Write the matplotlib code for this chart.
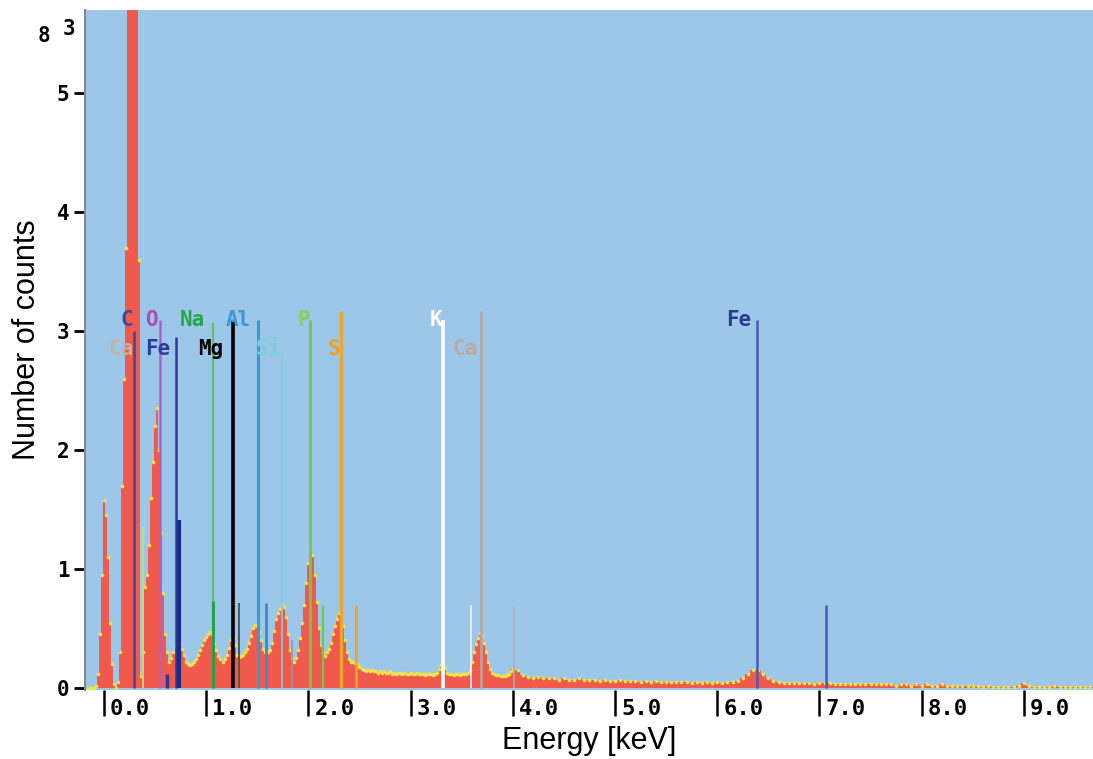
import matplotlib.pyplot as plt
import numpy as np

# spectrum, thousands of counts per channel
LOW_START, LOW_STEP = -0.16, 0.02
LOW_COUNTS = [
    0, 0, 0, 0, 0.02, 0.12, 0.45, 0.95, 1.58, 1.45,
    1.1, 0.55, 0.2, 0.03, 0.0, 0.05, 0.3, 1.7, 2.6, 3.7,
    6.0, 6.0, 6.0, 6.0, 6.0, 3.6, 0.1, 0.3, 0.85, 0.95,
    1.2, 1.6, 1.9, 2.2, 2.35, 2.0, 1.3, 0.8, 0.45, 0.3,
    0.22, 0.25, 0.3, 0.35, 0.4, 0.38, 0.33, 0.28, 0.22, 0.2,
    0.19, 0.2, 0.22, 0.24, 0.28, 0.32, 0.36, 0.4, 0.43, 0.45,
    0.47, 0.45, 0.38, 0.32, 0.27, 0.24, 0.22, 0.24, 0.28, 0.34,
    0.4, 0.42, 0.36, 0.28, 0.26, 0.27, 0.28, 0.3, 0.33, 0.38,
    0.44, 0.5, 0.53, 0.52, 0.47, 0.4, 0.33, 0.3, 0.3, 0.32,
    0.38, 0.48, 0.58, 0.63, 0.66, 0.7, 0.68, 0.6, 0.45, 0.32,
    0.25, 0.22, 0.25, 0.32, 0.42, 0.55, 0.7, 0.88, 1.05, 1.15,
    1.12, 0.95, 0.72, 0.5, 0.36, 0.3, 0.27, 0.3, 0.33, 0.38,
    0.45, 0.52, 0.58, 0.63, 0.62, 0.52, 0.4, 0.3, 0.24, 0.22,
    0.22, 0.21, 0.2, 0.18, 0.16, 0.15, 0.14, 0.15, 0.14, 0.15,
    0.14, 0.14, 0.13, 0.14, 0.13, 0.14, 0.13, 0.13, 0.14, 0.12,
    0.13, 0.12, 0.13, 0.13, 0.12, 0.13, 0.12, 0.12, 0.13, 0.12,
    0.12, 0.13, 0.12, 0.12, 0.12, 0.11, 0.12, 0.12, 0.12, 0.11,
    0.12, 0.13, 0.16, 0.19, 0.19, 0.17, 0.13, 0.12, 0.12, 0.11,
    0.12, 0.12, 0.11, 0.12, 0.12, 0.12, 0.13, 0.15, 0.22, 0.3,
    0.37, 0.42, 0.46, 0.44, 0.38, 0.3, 0.22, 0.16, 0.13, 0.12,
    0.11, 0.11, 0.1, 0.1, 0.1, 0.11, 0.12, 0.14,
]
HIGH_START, HIGH_STEP = 4.0, 0.05
HIGH_COUNTS = [
    0.16, 0.15, 0.11, 0.09, 0.08, 0.09, 0.08, 0.08, 0.08, 0.07,
    0.08, 0.07, 0.07, 0.08, 0.07, 0.07, 0.07, 0.06, 0.07, 0.06,
    0.06, 0.07, 0.06, 0.06, 0.06, 0.05, 0.06, 0.05, 0.06, 0.05,
    0.05, 0.05, 0.05, 0.05, 0.05, 0.04, 0.05, 0.04, 0.05, 0.04,
    0.05, 0.04, 0.05, 0.05, 0.06, 0.08, 0.12, 0.15, 0.15, 0.12,
    0.08, 0.06, 0.05, 0.04, 0.04, 0.04, 0.04, 0.04, 0.04, 0.03,
    0.04, 0.04, 0.04, 0.03, 0.03, 0.03, 0.03, 0.03, 0.03, 0.03,
    0.03, 0.03, 0.03, 0.03, 0.03, 0.02, 0.03, 0.03, 0.02, 0.03,
    0.02, 0.03, 0.02, 0.02, 0.03, 0.02, 0.02, 0.02, 0.02, 0.02,
    0.02, 0.02, 0.01, 0.02, 0.01, 0.01, 0.01, 0.01, 0.01, 0.02,
    0.04, 0.02, 0.01, 0.01, 0.01, 0.01, 0.02, 0.01, 0.01, 0.01,
    0.01, 0.01, 0.01, 0.01,
]

# element marker lines: energy (keV), height, colour, width
LINE_E = [0.29, 0.38, 0.55, 0.62, 0.705, 0.735, 1.07, 1.07, 1.26, 1.32,
          1.505, 1.585, 1.745, 1.835, 2.015, 2.145, 2.32, 2.47, 3.315, 3.59,
          3.69, 4.01, 6.39, 7.065]
LINE_TOP = [3.0, 1.35, 3.09, 0.12, 2.95, 1.41, 3.07, 0.73, 3.09, 0.71,
            3.09, 0.71, 2.8, 0.4, 3.09, 0.7, 3.17, 0.7, 3.09, 0.7,
            3.17, 0.68, 3.09, 0.7]
LINE_COL = ["#4a4aa0", "#c8e070", "#b060c8", "#2a3a9a", "#2a3a9a", "#1a2a88",
            "#60c070", "#20a040", "black", "#555555", "#3a98d8", "#3a88d0",
            "#80d0e0", "#909aa0", "#70c850", "#70c850", "#f0a428", "#f0a428",
            "white", "#eef4f8", "#b8a8a0", "#b0aab8", "#4a5cb0", "#4a5cb0"]
LINE_W = [2.0, 1.3, 1.8, 2.5, 1.8, 3.0, 1.6, 2.0, 2.6, 1.4,
          2.2, 2.0, 1.2, 1.2, 2.0, 1.6, 2.4, 2.0, 2.6, 1.2,
          1.8, 1.2, 1.8, 1.8]

# element labels: text, left energy, row, colour
LABELS = ["C", "O", "Na", "Al", "P", "K", "Fe",
          "Ca", "Fe", "Mg", "Si", "S", "Ca"]
LABEL_E = [0.16, 0.40, 0.74, 1.19, 1.89, 3.19, 6.09,
           0.04, 0.40, 0.92, 1.48, 2.19, 3.41]
LABEL_ROW = [0, 0, 0, 0, 0, 0, 0, 1, 1, 1, 1, 1, 1]
LABEL_COL = ["#3a48a8", "#b048b8", "#28a848", "#3a98d8", "#80d060", "white",
             "#283c90", "#c8b0a0", "#2a3c98", "black", "#78d0d8", "#f0a020",
             "#c0a898"]

X_TICKS = [0, 1, 2, 3, 4, 5, 6, 7, 8, 9]
Y_TICKS = [0, 1, 2, 3, 4, 5]

BG = "#9dc7e8"
RED = "#ef5a4c"
YELLOW = "#f2e24a"
MONO = "DejaVu Sans Mono"

fig = plt.figure(figsize=(10.93, 7.59), dpi=100)
ax = fig.add_axes([86 / 1093, 1 - 690 / 759, 1 - 86 / 1093, 680 / 759])
ax.set_facecolor(BG)

e_low = LOW_START + LOW_STEP * np.arange(len(LOW_COUNTS))
e_high = HIGH_START + HIGH_STEP * np.arange(len(HIGH_COUNTS))
ax.bar(e_low, LOW_COUNTS, width=LOW_STEP, color=RED, linewidth=0, zorder=2)
ax.bar(e_high, HIGH_COUNTS, width=HIGH_STEP, color=RED, linewidth=0, zorder=2)
ax.plot(e_low, LOW_COUNTS, ls="none", marker="o", ms=2.6, mew=0,
        color=YELLOW, zorder=3)
ax.plot(e_high, HIGH_COUNTS, ls="none", marker="o", ms=2.6, mew=0,
        color=YELLOW, zorder=3)

for e, top, c, w in zip(LINE_E, LINE_TOP, LINE_COL, LINE_W):
    ax.vlines(e, 0, top, colors=c, linewidth=w, zorder=4)

row_y = [3.09, 2.85]
for txt, e, r, c in zip(LABELS, LABEL_E, LABEL_ROW, LABEL_COL):
    ax.text(e, row_y[r], txt, color=c, fontsize=15, fontweight="bold",
            family=MONO, ha="left", va="center", zorder=5)

ax.set_xlim(-0.176, 9.677)
ax.set_ylim(-0.017, 5.697)

for s in ["top", "right", "bottom"]:
    ax.spines[s].set_visible(False)
ax.spines["left"].set_color("#888888")
ax.spines["left"].set_linewidth(1.5)
ax.spines["left"].set_position(("outward", 1))

ax.set_yticks(Y_TICKS)
ax.set_yticklabels([str(v) for v in Y_TICKS], family=MONO,
                   fontweight="bold", fontsize=15)
ax.tick_params(axis="y", direction="out", length=8, width=2, pad=3)

ax.set_xticks(X_TICKS)
ax.set_xticklabels([])
ax.tick_params(axis="x", direction="out", length=19, width=1.8, pad=0,
               color="black")
for t in X_TICKS:
    ax.text(t + 0.06, -0.028, f"{t:.1f}", transform=ax.get_xaxis_transform(),
            family=MONO, fontweight="bold", fontsize=16, ha="left", va="center")

ax.set_xlabel("Energy [keV]", family="Liberation Sans", fontsize=22, labelpad=7)
ax.set_ylabel("Number of counts", family="Liberation Sans", fontsize=22)
ax.yaxis.set_label_coords(-0.044, 0.515)

fig.text(38 / 1093, 1 - 36 / 759, "8", family=MONO, fontweight="bold",
         fontsize=15, va="center")
fig.text(63 / 1093, 1 - 29 / 759, "3", family=MONO, fontweight="bold",
         fontsize=15, va="center")

fig.savefig("out.png", dpi=100)
